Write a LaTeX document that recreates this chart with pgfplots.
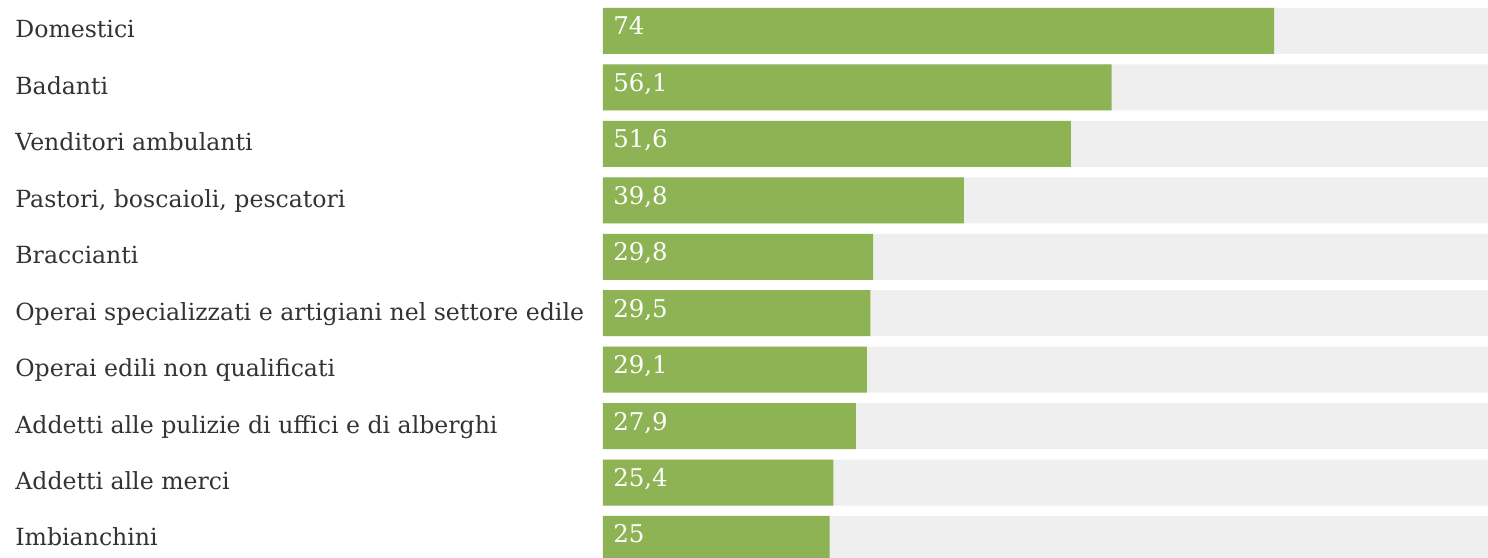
\documentclass[border=0pt]{standalone}
\usepackage{pgfplots}
\pgfplotsset{compat=1.18}
\usepackage{pgfplotstable}
\usepackage{fontspec}
\setmainfont{DejaVu Serif}
\definecolor{barGreen}{RGB}{141,179,84}
\definecolor{bgGray}{RGB}{239,239,239}
\definecolor{labGray}{RGB}{51,51,51}
\pgfplotstableread{
y val zero full
0 74   0 100
1 56.1 0 100
2 51.6 0 100
3 39.8 0 100
4 29.8 0 100
5 29.5 0 100
6 29.1 0 100
7 27.9 0 100
8 25.4 0 100
9 25   0 100
}\data
\begin{document}
\begin{tikzpicture}
\begin{axis}[
  scale only axis,
  width=442.5pt, height=279pt,
  xmin=0, xmax=97.6,
  ymin=-0.549, ymax=9.337,
  y dir=reverse,
  axis line style={draw=none},
  xtick=\empty,
  ytick={0,...,9},
  yticklabels={Domestici,Badanti,Venditori ambulanti,{Pastori, boscaioli, pescatori},Braccianti,Operai specializzati e artigiani nel settore edile,Operai edili non qualificati,Addetti alle pulizie di uffici e di alberghi,Addetti alle merci,Imbianchini},
  major tick length=0pt,
  yticklabel style={anchor=base west, inner sep=0pt, xshift=-294pt, yshift=-3.5pt, font=\fontsize{11.8}{14}\selectfont, text=labGray},
]
\addplot[xbar, bar shift=0pt, bar width=23pt, fill=bgGray, draw=none] table[x=full, y=y] {\data};
\addplot[xbar, bar shift=0pt, bar width=23pt, fill=barGreen, draw=none] table[x=val, y=y] {\data};
\addplot[draw=none, mark=none, nodes near coords, point meta=\thisrow{val},
  every node near coord/.append style={anchor=base west, inner sep=0pt, xshift=5pt, yshift=-2pt, text=white, font=\fontsize{12.2}{14}\selectfont,
    /pgf/number format/.cd, fixed, precision=1, use comma, assume math mode=true}]
  table[x=zero, y=y] {\data};
\end{axis}
\pgfresetboundingbox
\path (current axis.south west) ++(-301.5pt,0pt) rectangle (current axis.north east);
\end{tikzpicture}
\end{document}
